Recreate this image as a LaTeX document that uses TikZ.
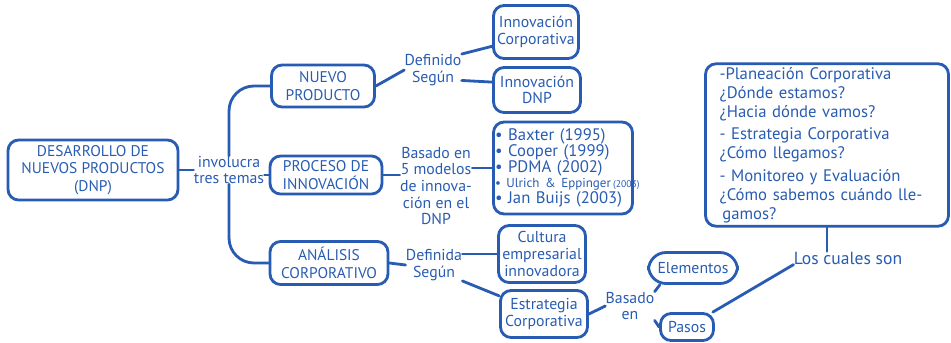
\documentclass[tikz,border=0pt]{standalone}
\usepackage{fontspec}
\setmainfont{PT Sans}
\usetikzlibrary{arrows,arrows.meta,calc,positioning}
\definecolor{azul}{RGB}{40,92,178}
\tikzset{%
	% Specifications for style of nodes:
	base/.style = {rectangle, rounded corners=6pt, draw=azul, line width=1.6pt,
	text=azul, align=center, inner sep=2pt},
	tema/.style = {base, font=\fontsize{8.8}{10}\selectfont},
	concepto/.style = {base, font=\fontsize{9}{9.5}\selectfont},
	lista/.style = {base, align=left, font=\fontsize{9.5}{9}\selectfont},
	enlace/.style = {text=azul, align=center, inner sep=0pt,
	font=\fontsize{9}{9.5}\selectfont},
	linea/.style = {draw=azul, line width=1.6pt, line cap=round}
}

\begin{document}
\begin{tikzpicture}[x=0.02cm, y=-0.02cm]
		\useasboundingbox (0,0) rectangle (951,342);
		% Specification of nodes (position, etc.)
		
		\node (dnp)       [tema, minimum width=3.4cm, minimum height=1.2cm] at (93,170)
		{DESARROLLO DE\\NUEVOS PRODUCTOS\\(DNP)};
		\node (involucra) [enlace] at (229,170) {involucra\\tres temas};
		
		\node (nuevo)     [tema, minimum width=2.06cm, minimum height=0.84cm] at (323,86)
		{NUEVO\\PRODUCTO};
		\node (proceso)   [tema, minimum width=2.24cm, minimum height=0.76cm] at (326,175)
		{PROCESO DE\\INNOVACIÓN};
		\node (analisis)  [tema, minimum width=2.36cm, minimum height=0.86cm] at (329,263)
		{ANÁLISIS\\CORPORATIVO};
		
		\node (defnuevo)  [enlace] at (433,70) {Definido\\Según};
		\node (basado)    [enlace] at (436,186)
		{Basado en\\5 modelos\\de innova-\\ción en el\\DNP};
		\node (defanal)   [enlace] at (434,265) {Definida\\Según};
		
		\node (innovcorp) [concepto, minimum width=1.7cm, minimum height=1.06cm] at (536,32)
		{Innovación\\Corporativa};
		\node (innovdnp)  [concepto, minimum width=1.74cm, minimum height=0.9cm] at (537,90)
		{Innovación\\DNP};
		\node (modelos)   [lista, minimum width=2.78cm, minimum height=1.84cm,
		text width=2.72cm, inner xsep=0.03cm] at (563,168)
		{• Baxter (1995)\\
		• Cooper (1999)\\
		• PDMA (2002)\\
		\mbox{\fontsize{7.4}{9}\selectfont• Ulrich \& Eppinger\,{\fontsize{5.5}{9}\selectfont(2003)}}\\
		• Jan Buijs (2003)};
		\node (cultura)   [concepto, minimum width=1.74cm, minimum height=1.14cm] at (542,254)
		{Cultura\\empresarial\\innovadora};
		\node (estrategia)[concepto, minimum width=1.74cm, minimum height=0.94cm] at (544,314)
		{Estrategia\\Corporativa};
		
		\node (basadoen)  [enlace] at (630,306) {Basado\\en};
		\node (elementos) [concepto, rounded corners=10pt, minimum width=1.78cm,
		minimum height=0.62cm] at (693,268) {Elementos};
		\node (pasos)     [concepto, minimum width=1.06cm, minimum height=0.54cm] at (687,327)
		{Pasos};
		
		\node (cuales)    [enlace, font=\fontsize{10}{10}\selectfont] at (848,258) {Los cuales son};
		\node (niveles)   [lista, minimum width=4.86cm, minimum height=3.2cm,
		text width=4.3cm, inner xsep=0.28cm, font=\fontsize{9.5}{10.8}\selectfont]
		at (827,145)
		{-Planeación Corporativa\\
		¿Dónde estamos?\\
		¿Hacia dónde vamos?\\[2pt]
		- Estrategia Corporativa\\
		¿Cómo llegamos?\\[2pt]
		- Monitoreo y Evaluación\\
		¿Cómo sabemos cuándo lle-\\
		\,gamos?};
		
		% Connectors
		\draw[linea] (dnp.east) -- (involucra.west);
		\draw[linea, rounded corners=0.5cm] (involucra.north) |- (nuevo.west);
		\draw[linea] (involucra.east |- proceso.west) -- (proceso.west);
		\draw[linea, rounded corners=0.5cm] (involucra.south) |- (analisis.west);
		
		\draw[linea] (nuevo.east) -- (defnuevo.west);
		\draw[linea] (defnuevo.north east) -- (innovcorp.198);
		\draw[linea] (defnuevo.-20) -- (innovdnp.170);
		
		\draw[linea] (proceso.east) -- (proceso.east -| basado.west);
		\draw[linea] (modelos.west -| basado.east) -- (modelos.west);
		
		\draw[linea] (analisis.east) -- (defanal.west);
		\draw[linea] (defanal.east |- cultura.west) -- (cultura.west);
		\draw[linea] (defanal.south east) -- (estrategia.158);
		
		\draw[linea] (estrategia.east) -- (basadoen.west);
		\draw[linea] (basadoen.north east) -- (elementos.207);
		\draw[linea] (basadoen.south east) -- (pasos.west);
		\draw[linea] (pasos.30) -- (cuales.south west);
		\draw[linea] (niveles.south) -- (niveles.south |- cuales.north);
		
		\end{tikzpicture}
\end{document}
